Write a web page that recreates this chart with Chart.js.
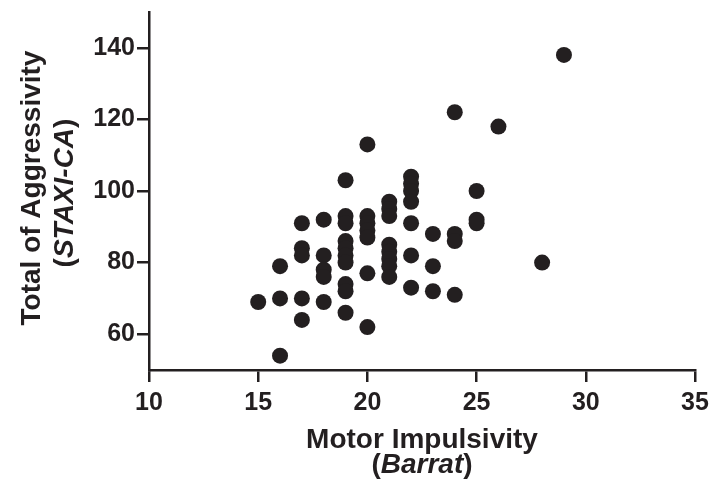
<!DOCTYPE html>
<html>
<head>
<meta charset="utf-8">
<script src="https://cdn.jsdelivr.net/npm/chart.js@4.4.1/dist/chart.umd.min.js"></script>
<style>
  html, body { margin: 0; padding: 0; background: #ffffff; }
  #grafico { display: block; }
</style>
</head>
<body>
<canvas id="grafico" width="712" height="492"></canvas>
<script>
// Motor impulsivity (Barrat) vs total aggressivity (STAXI-CA), one entry per subject
const impulsividade = [
    15,
    16, 16, 16,
    17, 17, 17, 17, 17,
    18, 18, 18, 18, 18,
    19, 19, 19, 19, 19, 19, 19, 19, 19, 19,
    20, 20, 20, 20, 20, 20, 20,
    21, 21, 21, 21, 21, 21, 21, 21,
    22, 22, 22, 22, 22, 22, 22,
    23, 23, 23,
    24, 24, 24, 24,
    25, 25, 25,
    26,
    28,
    29
];
const agressividade = [
    69,
    79, 70, 54,
    91, 84, 82, 70, 64,
    92, 82, 78, 76, 69,
    103, 93, 91, 86, 84, 82, 80, 74, 72, 66,
    113, 93, 91, 89, 87, 77, 62,
    97, 95, 93, 85, 83, 81, 79, 76,
    104, 102, 100, 97, 91, 82, 73,
    88, 79, 72,
    122, 88, 86, 71,
    100, 92, 91,
    118,
    80,
    138
];
const ticksX = [10, 15, 20, 25, 30, 35];
const ticksY = [60, 80, 100, 120, 140];

const COR = '#231f20';
const FONTE = "'Liberation Sans', Arial, sans-serif";

const pontos = impulsividade.map((x, i) => ({ x: x, y: agressividade[i] }));

// titulos dos eixos com partes em italico
const titulosEixos = {
    id: 'titulosEixos',
    afterDraw(chart) {
        const ctx = chart.ctx;
        const area = chart.chartArea;
        const cx = (area.left + area.right) / 2;

        const linhaMista = (partes, x, y) => {
            let total = 0;
            partes.forEach(p => { ctx.font = p.f; total += ctx.measureText(p.t).width; });
            let pos = x - total / 2;
            ctx.textAlign = 'left';
            partes.forEach(p => {
                ctx.font = p.f;
                ctx.fillText(p.t, pos, y);
                pos += ctx.measureText(p.t).width;
            });
        };

        const negrito = 'bold 28px ' + FONTE;
        const italico = 'italic bold 28px ' + FONTE;

        ctx.save();
        ctx.fillStyle = COR;
        ctx.textBaseline = 'alphabetic';

        ctx.font = negrito;
        ctx.textAlign = 'center';
        ctx.fillText('Motor Impulsivity', cx, 448);
        linhaMista([{ t: '(', f: negrito }, { t: 'Barrat', f: italico }, { t: ')', f: negrito }], cx, 473);

        ctx.save();
        ctx.translate(40, 188);
        ctx.rotate(-Math.PI / 2);
        ctx.font = negrito;
        ctx.textAlign = 'center';
        ctx.fillText('Total of Aggressivity', 0, 0);
        ctx.restore();

        ctx.save();
        ctx.translate(73, 193);
        ctx.rotate(-Math.PI / 2);
        linhaMista([{ t: '(', f: negrito }, { t: 'STAXI-CA', f: italico }, { t: ')', f: negrito }], 0, 0);
        ctx.restore();

        ctx.restore();
    }
};

const ctxGrafico = document.getElementById('grafico').getContext('2d');
const grafico = new Chart(ctxGrafico, {
    type: 'scatter',
    data: {
        datasets: [{
            data: pontos,
            backgroundColor: COR,
            borderWidth: 0,
            pointRadius: 8,
            pointHoverRadius: 8
        }]
    },
    options: {
        responsive: false,
        animation: false,
        layout: {
            padding: { left: 0, right: 17, top: 12, bottom: 0 }
        },
        plugins: {
            legend: { display: false },
            tooltip: { enabled: false }
        },
        scales: {
            x: {
                type: 'linear',
                min: 10,
                max: 35,
                afterBuildTicks: (escala) => { escala.ticks = ticksX.map(v => ({ value: v })); },
                afterFit: (escala) => {
                    escala.height = 122;
                    escala.paddingLeft = 0;
                    escala.paddingRight = 0;
                },
                ticks: {
                    color: COR,
                    padding: 6,
                    maxRotation: 0,
                    font: { family: FONTE, size: 25, weight: 'bold' }
                },
                grid: {
                    drawOnChartArea: false,
                    drawTicks: true,
                    tickLength: 12,
                    color: COR,
                    lineWidth: 2.5
                },
                border: { color: COR, width: 2.5 }
            },
            y: {
                type: 'linear',
                min: 50,
                max: 150,
                afterBuildTicks: (escala) => { escala.ticks = ticksY.map(v => ({ value: v })); },
                afterFit: (escala) => {
                    escala.width = 149;
                    escala.paddingTop = 0;
                    escala.paddingBottom = 0;
                },
                ticks: {
                    color: COR,
                    padding: 2,
                    font: { family: FONTE, size: 25, weight: 'bold' }
                },
                grid: {
                    drawOnChartArea: false,
                    drawTicks: true,
                    tickLength: 12,
                    color: COR,
                    lineWidth: 2.5
                },
                border: { color: COR, width: 2.5 }
            }
        }
    },
    plugins: [titulosEixos]
});
</script>
</body>
</html>
